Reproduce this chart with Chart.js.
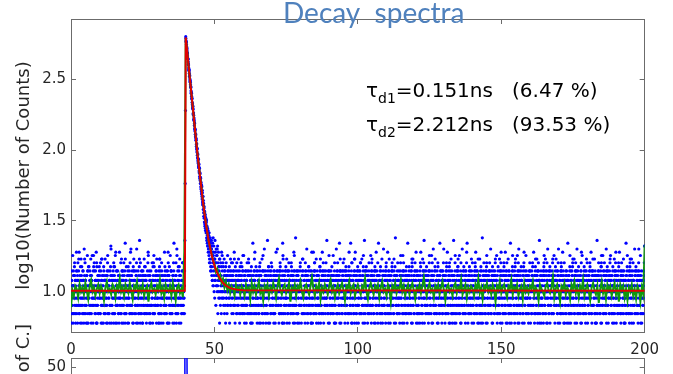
<!DOCTYPE html>
<html lang="en">

<head>
  <meta charset="UTF-8" />
  <title>Decay spectra</title>
  <script src="https://cdn.jsdelivr.net/npm/chart.js"></script>
  <style>
    body {
      margin: 0;
      width: 673px;
      height: 374px;
      overflow: hidden;
      position: relative;
      background-color: #ffffff;
    }

    #decayChart {
      position: absolute;
      left: 0;
      top: 0;
    }

    #residualChart {
      position: absolute;
      left: 0;
      top: 290px;
    }
  </style>
</head>

<body>
  <canvas id="decayChart" width="673" height="374"></canvas>
  <canvas id="residualChart" width="673" height="225"></canvas>

  <script>
    const chartTitle = 'Decay  spectra';
    const yTitle = 'log10(Number of Counts)';
    const residualTitle = 'Residuals [No. of C.]';
    const xTicks = [0, 50, 100, 150, 200];
    const yTicks = [1, 1.5, 2, 2.5];
    const residualTicks = [0, 50];

    const lifetimeLabels = [
      { sub: 'd1', text: '=0.151ns   (6.47 %)' },
      { sub: 'd2', text: '=2.212ns   (93.53 %)' }
    ];

    // counts per channel, one base-36 character each (6..g = 6..16 counts)
    // even channels sit on the 0.1 ns grid, odd channels 0.05 ns later
    const channelWidth = 0.1;
    const countsBefore = `
      9c6ea8ib7d b7fd9a6c8j e8a6gc9h7b 7dbf8h9a6c a9e7c6kd8g c8b6ad9ie7 6fa9b7ec8h d7c8i9b6af
      8gea9c7bj6 f6b8d7ac9e 9a7ge6c8hd b8d6fa7c9h 7c9ad8e6ib e9b7c6a8fl a6d8b9ce7g c7f9a6jb8e
      6b8ec7ad9j d9a7b8h6ce 8e6cg9ba7m 9c7fb8a6ed b6a9d7gc8k 7d8ea6bf9h ea9c8b7d6k a8b6e9c7fn
      c6g7a9e8bd 6e9d8ha7cf d8c6a7b9gj 9b7e6dc8a5 8a9gc6f7bi f7b9d8ae6h b9c8a6e7dh 7e8b6dg9ac
      a6c9b8j7ed c8a7e9bd6g 9d6fb7i8ce e7a8c6bd9m 6c9a8dg7bk b8e7f9c6ah d9b6a8c7eg 8c7a9b`;
    const countsBeforeOdd = `
      a8c97bb6ed 9ag8c7ba9e 7cd9a8ebj8 ba69c8dfa7 8e9bca7h9c c7a8d96bea 9bfa8c7dab 6dc9ab8ei9
      a9b7ce8c6g 8c9ad7bafb d7a9b8hc69 9ab8e7cad8 c8a69bdg7b 7b9ca8eadk ac8b79da6f 9d7aic8b9e
      b8ca9d76ab 8a9gb7cead c9b8ad7e6h a7c9b8da9f 9b8ec7aj8c d8a79bc6ea 7cab98edgb b9a8c7d9ha
      8ad9bc7e6c a9c8b7fad9 c7b9a8e8di 9a8dc7b6ea b8c9a7dgc8 7a9bc8ead9 a8d9b7c6fh 9cb8a7e9da
      c9a8d7bfa7 8b9ac6edjb ad8c9b7ae9 9b7ad8cge8 b9c8a7d6ai 7ca9b8efda 9d8ab7c9eg a8c9b7`;
    const countsRise = [14, 23, 58, 190]; // 39.6 .. 39.9 ns
    const countsDecay = [ // 40.0 .. 59.9 ns
      631, 590, 575, 538, 522, 489, 478, 445, 437, 402,
      398, 366, 362, 330, 334, 305, 301, 279, 276, 251,
      252, 229, 231, 209, 199, 204, 181, 183, 164, 168,
      149, 155, 136, 139, 124, 128, 121, 106, 111, 97,
      102, 88, 93, 81, 86, 75, 79, 69, 74, 63,
      68, 58, 63, 53, 57, 49, 55, 45, 50, 41,
      47, 38, 42, 34, 39, 31, 36, 29, 35, 27,
      33, 26, 31, 24, 29, 22, 28, 21, 27, 20,
      25, 18, 24, 17, 23, 16, 22, 15, 21, 14,
      20, 13, 19, 12, 22, 11, 18, 14, 21, 10,
      17, 9, 23, 12, 16, 8, 20, 13, 11, 18,
      10, 21, 7, 14, 19, 9, 12, 15, 6, 17,
      13, 8, 16, 11, 7, 19, 10, 18, 12, 9,
      12, 15, 8, 11, 17, 7, 14, 10, 13, 6,
      11, 16, 9, 13, 7, 12, 18, 8, 14, 10,
      9, 13, 15, 6, 11, 10, 17, 8, 12, 14,
      11, 7, 13, 16, 9, 12, 8, 14, 10, 19,
      10, 12, 6, 15, 11, 9, 13, 7, 16, 12,
      8, 11, 14, 10, 17, 12, 9, 13, 6, 11,
      13, 10, 7, 16, 12, 9, 15, 11, 8, 14
    ];
    const countsDecayOdd = [ // 40.05 .. 49.95 ns
      612, 583, 556, 529, 508, 485, 461, 441, 420, 405,
      380, 371, 349, 338, 317, 310, 290, 281, 262, 256,
      240, 233, 217, 212, 197, 194, 179, 176, 163, 160,
      154, 142, 140, 129, 130, 117, 118, 110, 101, 103,
      92, 94, 84, 87, 77, 80, 71, 75, 65, 69,
      61, 64, 55, 59, 51, 56, 47, 52, 43, 47,
      42, 44, 36, 40, 33, 37, 30, 34, 28, 32,
      30, 27, 32, 23, 28, 25, 21, 26, 19, 24,
      21, 26, 16, 22, 19, 24, 14, 20, 17, 23,
      15, 21, 12, 18, 16, 24, 11, 19, 13, 17
    ];
    const countsAfter = `
      7bi9d6ca8e a6c8gb9d7h e9a7db6c8f 8d6bm9ca7e cj7a9f8db6
      9e8c7a6bdg b6d9a8hc7e 6a8ek9c7bd d8b7cn9a6f a9c6e8d7bc
      f8a9b7c6de 7c6d8jba9e c9b8a6e7dg 8e7a9bc6mi b7d6c8a9ef
      9ah6be7d8c e6c8b9a7gd a8d7c6bj9e 6b9oa8ecd7 d7e9a6c8bf
      c8b6a9dh7e 7a9c8b6ged 9dk7b6ac8f b9a8e7c6d9 8c6d9jb7eg
      e7b8ah6c9d a9d6c8b7fe 6c8b7dj9ae d6a9e8c7bg 9bn8c7a6ed
      c6e9b7a8dc 8a7di9cb6g b8c6ak9d7e 7d9a8bm6ce a6b8c7e9dg
      9ch8e6ba7d e8a9b6d7cf d7b8cm9a6g 6a9c8d7bhe bj9d7a6c8e
      8b6a9ec7dg c9a7hb8d6f a7cn6e9b8d 9e8d6a7bcg 7a9b8ic6de
      d8c9a7b6ec b6e8jc9a7d 6dm9a8bc7f e9c7hb6a8d a8b9d7c6eg
      9a7cj8b6ed c7d6a9b8ef 8e9b7ch6ad bo6a8d9c7g 7c8e9a6bdg
      a9d8c6bi7e e6b9a7c8dc 9c6dm8a7bf d7a9b8e6cg 6bh8c9d7ae
      c9aj6e8d7b 8d7b9a6cgf b7c8a6he9d an6e9c8b7d 9b8d7c6aeg
      7e9a8bci6d d6ck8b9a7f e8a7c9b6dg 6c9b7dm8ae b8a6e7c9dc
      9d8a6cb7eg a7jb9c8d6f c6e8ah9b7d 8b9dn7a6cg 7a6c9e8bdf
      e9b7ia8c6d 6d8ck9b7ae a8c7d6e9bg bm9a6c8d7f d7e8b9ha6c
      8c9b6a7edg cj7a8e9d6b 9b6d7hc8af 7e8ao6b9cd a9c7d8b6eg
      b6d9c7a8ec e8bk7a9c6d 6a9e8d7bcg d9c8ib6a7f 8b7ah9e6cd
      c8e6a9b7dg 9a7dj8c6be a6b9hc7e8d 7dm8a6b9cf e9c7b8d6ag
      b7a9d8ic6e dk6e8b7a9c 8c9a6d7bfg 6b8e9ci7ad a9d7b6c8ec
      9e6c8a7bdg c8bj9a6d7f 7a8dh9e6bc e7cn6b8a9d b9a8c7d6eg
      d8b7he9a6c a6k9d8b7ec 6e8b9c7adg 9d7ai8b6cf ch8a9e7d6b
      8b9c6a7edg e7d8ja9c6b b6a7c8e9dc a9mc8d6b7f 7c6e9a8bdg
      9a8bh7c6de d9e6kc8a7b c7b9a8d6eg 6ai8c9b7df 8d7e6a9hcb
      a6b8d9c7eg b9cj7a6e8d e8a9bh7c6d 7b6dn8a9ce d9a7c8b6fg
      6c8ai9e7bd 9b7c8dk6ae a8e6b9c7dg ci9d8a7b6f b7a6he8d9c
      e6d9b8a7cg 8aj9c7b6de d7b8e9hc6a 9c6a8md7bf a8b7c9e6dg
      7d9eh6ba8c c6a8bk9d7e b9e7a8c6dg e8c9di6a7b 6a7c8b9edc
      l`;
    const countsAfterOdd = `
      fhcjegbidk dbgcfaeh9c cadbf9ceag bc9daeb8cf a9cbd8eacb
      ba9ce8dbag 9cabd7eb8h a8bc9eda7c 9ba8cd7ebf b9ac8da7ei
      9b8ac7dae9 8c9a7ebdag b9ad8c7e6a 7ac9b8daeh c8b9ad7ea9
      a9c8d7bfe8 9dba8c7eai b8c9a7dae6 8a9cb7edfa 9cb8ad7ega
      ca9b8d7eb9 7b9c8adaek a8d9cb7eaf 9c8ba7d6eh b9a8cd7ea9
      8c9ab7edag a9b8c7dafe 9bca8d7ei8 c8a9b7dae6 7d9ab8caeg
      b9c8a7edha 9a8cb7dae9 a8c9bd7efa 8b9ca7d6ej c9a8b7daeg
      9cb8a7dae8 a9d8c7bfeh b8a9c7edag 7c9ab8dae9 9a8cbd7eai
      c8b9a7edaf a9c8b7dae6 8b9ad7ceag 9cab8d7ehe b9a8c7dae9
      9a8bc7edfa 8c9ab7daej a9b8cd7eag c8a9b7de6h 9b8ca7daef
      b9c8ad7eag 7a9cb8daei a8c9b7edaf 9b8ac7dae8 c9ab8d7egh
      8a9cb7daef 9cb8a7edag b8a9cd7ea6 a9c8b7daek 9b8ca7edfa
      c9a8bd7eah 8b9ca7daeg a9b8c7edaf 9ca8bd7ea9 b8c9a7daei
      9a8cb7edag a8c9bd7eaf 7b9ca8dae9 c9b8a7edhf 9a8bc7daeg
      b9ca8d7ea6 8c9ab7edaj a9b8c7daeg 9cb8ad7eaf c8a9b7deai
      9b8ac7daeg a9c8bd7eah 8b9ca7edaf 9a8cb7dae9 b9c8a7edgk
      c8a9b7daef 9b8ca7edag a9c8bd7ea6 7c9ab8daei 9a8cb7edfh
      b8c9a7daeg 9ca8bd7eaf a8b9c7edaj 8c9ab7dae9 c9a8b7edag
      9b8ca7daef a9c8b7edah b9a8cd7ea6 9c8ab7daeg 8a9cb7edfi
      c9b8a7daeg 9a8bc7edaf a9c8bd7eah 8b9ca7dae9 b8a9c7edgj
      9cb8a7daef a8c9b7edag c9a8bd7ea6 9b8ac7daei a9b8c7edfh
      b9c8ad7eag 8a9cb7daef 9c8ab7edaj a8b9cd7ea9 c9b8a7daeg
      9a8bc7edaf b8c9a7daeh a9c8bd7eag 9b8ca7dae6 8c9ab7edfi
      c8a9b7daeg 9cb8a7edaf a9b8cd7eah 7b9ca8dae9 9a8cb7edgk
      b9a8c7daef a8c9b7edag 9c8abd7ea6 c9b8a7daei 9b8ac7edfh
      a9c8b7daeg 8b9ca7edaf b9a8cd7eaj 9c8ab7dae9 c8a9b7edag
      9a8bc7daef a9b8c7edah b8c9ad7ea6 9cb8a7daeg 8a9cb7edfi
      c9a8b7daeg 9b8ca7edaf a8c9bd7eah 9a8cb7dae9 b9c8a7edgj
      9c8ab7daef a9b8c7edag c8a9bd7ea6 8b9ca7daei 9a8cb7edfh
      b8c9a7daeg 9cb8a7edaf a9c8bd7eak 9b8ac7dae9 c9a8b7edgl`;

    // smoothed trace, log10 values every 0.5 ns
    const greenStep = 0.5;
    const greenBefore = [ // 0 .. 39.5 ns
      0.89, 1.01, 0.97, 1.04, 1.02, 0.96, 1.05, 1.00, 1.03, 0.98,
      1.06, 1.01, 0.95, 1.04, 1.08, 1.00, 1.03, 0.97, 1.02, 1.05,
      0.99, 1.04, 1.01, 0.94, 1.03, 1.07, 1.00, 1.02, 0.98, 1.05,
      1.03, 0.96, 1.04, 1.01, 1.09, 1.00, 1.03, 0.97, 1.05, 1.02,
      0.99, 1.06, 1.01, 0.95, 1.04, 1.02, 1.07, 0.98, 1.03, 1.00,
      1.05, 0.97, 1.02, 1.04, 0.93, 1.03, 1.06, 1.00, 1.02, 0.98,
      1.04, 1.01, 1.08, 0.99, 1.03, 0.96, 1.05, 1.02, 1.00, 1.04,
      0.97, 1.06, 1.01, 0.94, 1.03, 1.05, 0.99, 1.02, 0.96, 1.28
    ];
    const greenDecay = [ // 40 .. 59.5 ns
      2.79, 2.70, 2.59, 2.49, 2.39, 2.29, 2.19, 2.09, 1.99, 1.90,
      1.81, 1.73, 1.64, 1.56, 1.49, 1.42, 1.35, 1.31, 1.27, 1.22,
      1.20, 1.14, 1.16, 1.10, 1.12, 1.06, 1.09, 1.03, 1.07, 1.01,
      1.05, 0.99, 1.04, 1.02, 0.97, 1.05, 1.01, 1.03, 0.98, 1.04
    ];
    const greenAfter = [ // 60 .. 200 ns
      1.02, 0.97, 1.05, 1.01, 1.03, 0.95, 1.06, 1.00, 1.04, 0.98,
      1.03, 1.07, 0.99, 1.02, 0.94, 1.04, 1.01, 1.05, 0.97, 1.03,
      1.00, 1.06, 1.02, 0.96, 1.04, 1.09, 1.01, 0.98, 1.03, 1.05,
      0.99, 1.02, 1.06, 0.93, 1.03, 1.01, 1.05, 0.97, 1.04, 1.02,
      1.07, 1.00, 0.96, 1.03, 1.05, 1.01, 0.98, 1.04, 1.10, 1.02,
      0.97, 1.04, 1.01, 1.06, 0.95, 1.03, 1.00, 1.05, 1.02, 0.98,
      1.04, 1.08, 1.00, 1.03, 0.96, 1.02, 1.05, 0.99, 1.03, 1.06,
      1.01, 0.94, 1.04, 1.02, 1.07, 0.99, 1.03, 1.05, 0.97, 1.02,
      1.05, 1.01, 0.98, 1.04, 1.02, 1.09, 1.00, 0.95, 1.03, 1.06,
      1.02, 0.98, 1.04, 1.01, 1.05, 0.96, 1.03, 1.07, 1.00, 1.02,
      0.97, 1.05, 1.02, 0.93, 1.04, 1.01, 1.06, 0.99, 1.03, 1.02,
      1.08, 1.00, 1.04, 0.97, 1.02, 1.05, 0.98, 1.03, 1.06, 1.01,
      0.95, 1.03, 1.01, 1.05, 0.99, 1.04, 1.10, 1.02, 0.97, 1.03,
      1.06, 1.00, 1.02, 0.96, 1.04, 1.01, 1.05, 0.98, 1.03, 1.07,
      1.01, 0.94, 1.03, 1.05, 1.00, 1.02, 0.97, 1.04, 1.06, 0.99,
      1.03, 1.01, 1.08, 0.98, 1.02, 1.05, 0.96, 1.03, 1.00, 1.04,
      1.02, 0.97, 1.05, 1.01, 1.09, 0.99, 1.03, 0.95, 1.04, 1.02,
      1.06, 1.00, 1.03, 0.98, 1.05, 1.02, 0.93, 1.04, 1.01, 1.07,
      0.99, 1.03, 1.05, 1.00, 0.96, 1.04, 1.02, 1.08, 0.98, 1.03,
      1.01, 1.05, 0.97, 1.02, 1.04, 0.95, 1.06, 1.00, 1.03, 0.99,
      1.04, 1.02, 1.07, 0.98, 1.03, 1.01, 0.94, 1.05, 1.02, 1.00,
      0.97, 1.04, 1.06, 1.01, 0.99, 1.03, 1.10, 0.96, 1.02, 1.05,
      1.00, 0.93, 1.04, 1.02, 1.06, 0.98, 1.03, 1.01, 0.95, 1.05,
      1.02, 1.07, 0.99, 1.03, 0.96, 1.04, 1.01, 1.08, 0.97, 1.02,
      1.05, 1.00, 0.94, 1.03, 1.06, 1.01, 0.98, 1.04, 0.92, 1.02,
      1.07, 0.99, 1.03, 0.95, 1.05, 1.01, 1.04, 0.97, 1.02, 1.06,
      0.98, 1.03, 0.93, 1.05, 1.01, 1.04, 0.96, 1.02, 0.94, 1.03,
      1.00, 1.05, 0.97, 1.02, 0.95, 1.04, 1.01, 0.93, 1.03, 0.98,
      1.33
    ];

    // fitted curve
    const fitTime = [0, 39.7, 40, 41, 42, 43, 44, 45, 46, 47, 48, 49, 50, 51, 52, 53, 54, 55, 56, 58, 60, 200];
    const fitLog = [1.007, 1.007, 2.795, 2.594, 2.392, 2.191, 1.989, 1.811, 1.634, 1.48, 1.36, 1.262,
      1.185, 1.13, 1.09, 1.061, 1.043, 1.03, 1.021, 1.013, 1.009, 1.007];

    // lower panel (only its top edge is in view)
    const residualTime = [0, 39.4, 39.7, 39.9, 40.2, 40.6, 200];
    const residualCounts = [0, 2, 95, 180, 130, 4, 0];

    const axisColor = '#6b6b6b';
    const textColor = '#262626';
    Chart.defaults.font.family = '"DejaVu Sans", sans-serif';

    const decodeCounts = s => s.replace(/\s+/g, '').split('').map(ch => parseInt(ch, 36));
    const countPoints = (values, start) =>
      values.map((c, i) => ({ x: start + i * channelWidth, y: Math.log10(c) }));
    const logPoints = (values, start, step) =>
      values.map((v, i) => ({ x: start + i * step, y: v }));

    const bluePoints = [
      ...countPoints(decodeCounts(countsBefore), 0),
      ...countPoints(decodeCounts(countsBeforeOdd), 0.05),
      ...countPoints(countsRise, 39.6),
      ...countPoints(countsDecay, 40),
      ...countPoints(countsDecayOdd, 40.05),
      ...countPoints(decodeCounts(countsAfterOdd), 50.05),
      ...countPoints(decodeCounts(countsAfter), 60)
    ];
    const greenPoints = [
      ...logPoints(greenBefore, 0, greenStep),
      ...logPoints(greenDecay, 40, greenStep),
      ...logPoints(greenAfter, 60, greenStep)
    ];
    const fitPoints = fitTime.map((t, i) => ({ x: t, y: fitLog[i] }));
    const residualPoints = residualTime.map((t, i) => ({ x: t, y: residualCounts[i] }));

    function boxAxis(position, min, max, tickValues, size, labels) {
      return {
        type: 'linear',
        position: position,
        min: min,
        max: max,
        afterBuildTicks: scale => { scale.ticks = tickValues.map(v => ({ value: v })); },
        afterFit: scale => {
          if (position === 'left' || position === 'right') scale.width = size;
          else scale.height = size;
        },
        grid: { drawOnChartArea: false, drawTicks: true, tickLength: -5, color: axisColor },
        border: { color: axisColor, width: 1 },
        ticks: { display: labels, color: textColor, font: { size: 15 }, padding: position === 'left' ? 10 : 14 }
      };
    }

    const overlayText = {
      id: 'overlayText',
      afterDraw(chart) {
        const ctx = chart.ctx;
        ctx.save();
        ctx.textBaseline = 'alphabetic';
        ctx.fillStyle = '#4f81bd';
        ctx.font = '28px Lato';
        ctx.fillText(chartTitle, 283, 23);

        ctx.fillStyle = '#000000';
        lifetimeLabels.forEach((row, i) => {
          const y = 97 + i * 34;
          let x = 366;
          ctx.font = '20px "DejaVu Sans"';
          ctx.fillText('τ', x, y);
          x += ctx.measureText('τ').width;
          ctx.font = '14px "DejaVu Sans"';
          ctx.fillText(row.sub, x, y + 6);
          x += ctx.measureText(row.sub).width;
          ctx.font = '20px "DejaVu Sans"';
          ctx.fillText(row.text, x, y);
        });
        ctx.restore();
      }
    };

    const decayY = boxAxis('left', 0.715, 2.925, yTicks, 71, true);
    decayY.title = { display: true, text: yTitle, color: textColor, font: { size: 18 }, padding: { top: 14, bottom: 0 } };

    new Chart(document.getElementById('decayChart').getContext('2d'), {
      type: 'scatter',
      data: {
        datasets: [
          {
            data: fitPoints, showLine: true, borderColor: '#e00000', borderWidth: 2,
            pointRadius: 0, tension: 0, order: 0
          },
          {
            data: greenPoints, showLine: true, borderColor: '#0e990e', borderWidth: 2,
            pointRadius: 0, tension: 0, order: 1
          },
          {
            data: bluePoints, showLine: false, backgroundColor: '#0000ff', borderWidth: 0,
            pointRadius: 1.6, order: 2
          }
        ]
      },
      options: {
        responsive: false,
        animation: false,
        events: [],
        layout: { padding: { top: 9.5, right: 28, left: 0, bottom: 0 } },
        plugins: { legend: { display: false }, tooltip: { enabled: false } },
        scales: {
          x: boxAxis('bottom', 0, 200, xTicks, 42, true),
          x2: boxAxis('top', 0, 200, xTicks, 0, false),
          y: decayY,
          y2: boxAxis('right', 0.715, 2.925, yTicks, 0, false)
        }
      },
      plugins: [overlayText]
    });

    const residualY = boxAxis('left', -8, 55, residualTicks, 71, true);
    residualY.title = { display: true, text: residualTitle, color: textColor, font: { size: 18 }, padding: { top: 14, bottom: 0 } };

    new Chart(document.getElementById('residualChart').getContext('2d'), {
      type: 'scatter',
      data: {
        datasets: [
          {
            data: residualPoints, showLine: true, borderColor: '#0000ff', borderWidth: 1.5,
            pointRadius: 0, tension: 0, clip: 0
          }
        ]
      },
      options: {
        responsive: false,
        animation: false,
        events: [],
        layout: { padding: { top: 68, right: 28, left: 0, bottom: 0 } },
        plugins: { legend: { display: false }, tooltip: { enabled: false } },
        scales: {
          x: boxAxis('bottom', 0, 200, xTicks, 43, true),
          x2: boxAxis('top', 0, 200, xTicks, 0, false),
          y: residualY,
          y2: boxAxis('right', -8, 55, residualTicks, 0, false)
        }
      }
    });
  </script>
</body>

</html>
